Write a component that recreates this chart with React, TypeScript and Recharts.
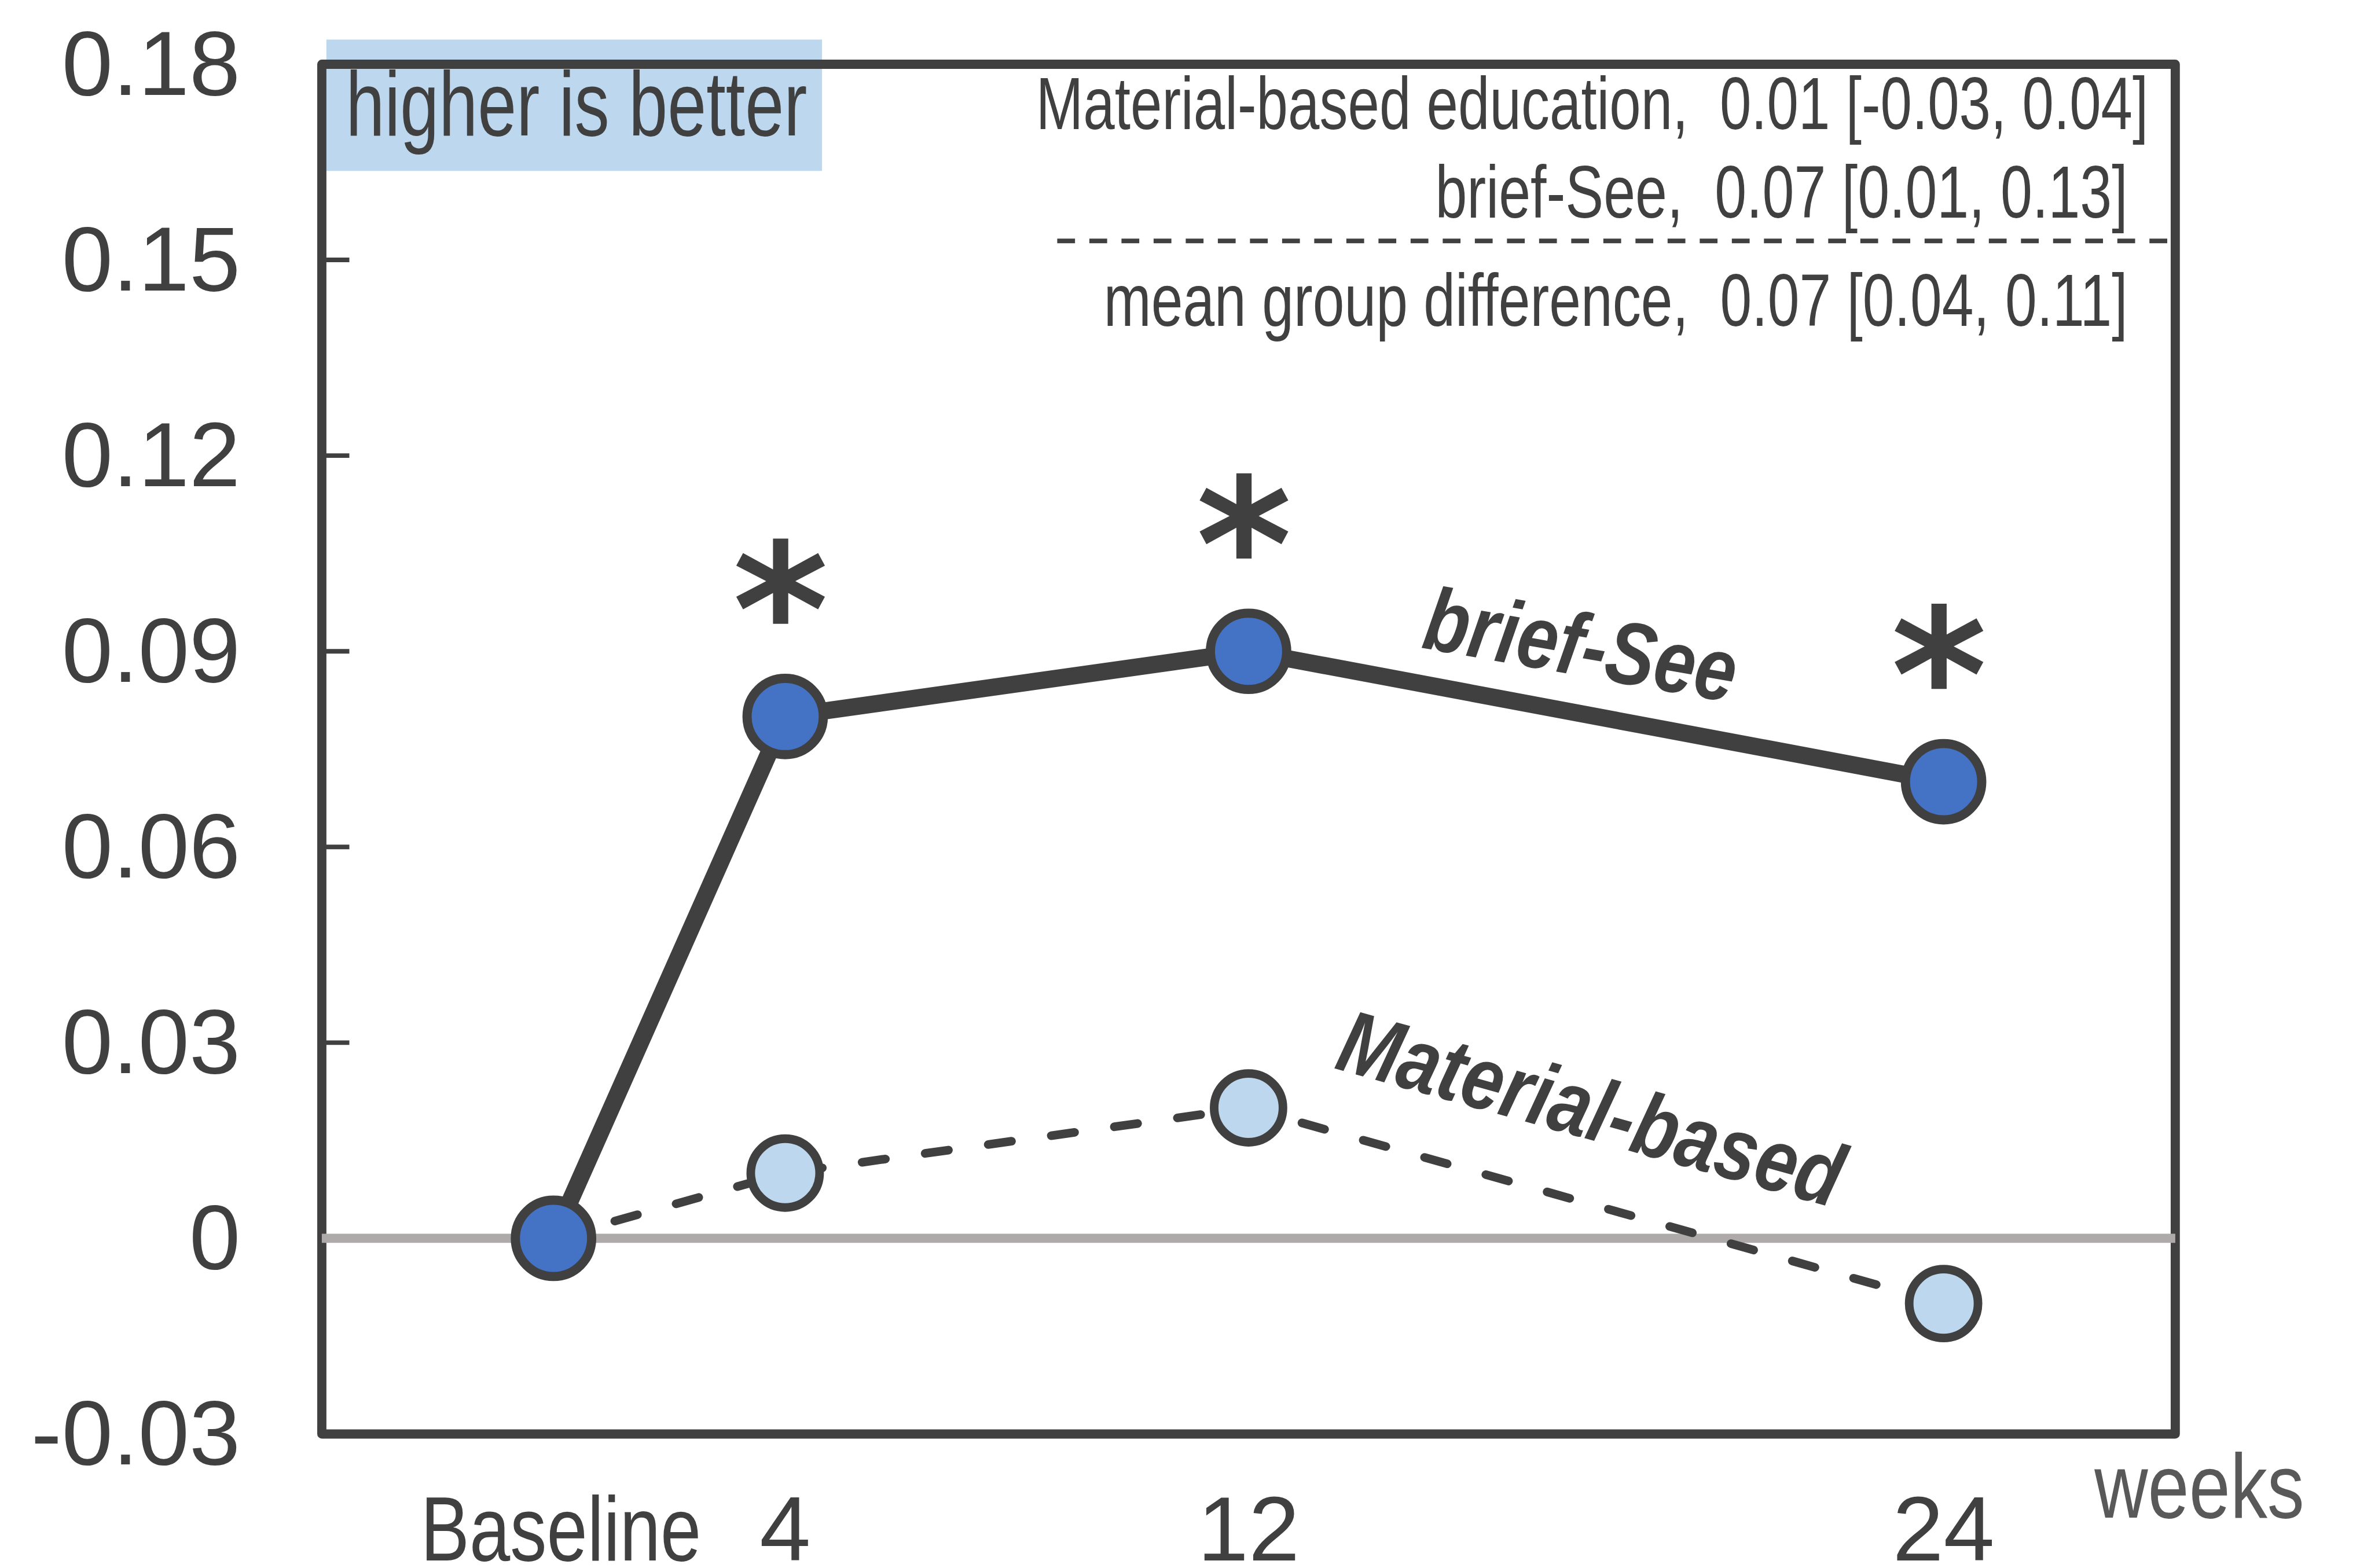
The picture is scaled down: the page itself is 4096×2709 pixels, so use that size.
import React from 'react';
import {
  LineChart,
  Line,
  XAxis,
  YAxis,
  ReferenceLine,
  ReferenceArea,
  LabelList,
  Customized,
} from 'recharts';

// Overall drawing scale
const S = 0.991;
const s = (v: number) => v * S;

// Data
const weeks = [0, 4, 12, 24];
const weekLabels = ['Baseline', '4', '12', '24'];
const briefSee = [0, 0.08, 0.09, 0.07];
const materialBased = [0, 0.01, 0.02, -0.01];
const significant = [false, true, true, true];

const yTicks = [-0.03, 0, 0.03, 0.06, 0.09, 0.12, 0.15, 0.18];
const yTickLabels = ['-0.03', '0', '0.03', '0.06', '0.09', '0.12', '0.15', '0.18'];

const summaryLines = [
  'Material-based education,\u00a0 0.01 [-0.03, 0.04]',
  'brief-See,\u00a0 0.07 [0.01, 0.13]',
  'mean group difference,\u00a0 0.07 [0.04, 0.11]',
];

const data = weeks.map((w, i) => ({
  week: w,
  briefSee: briefSee[i],
  material: materialBased[i],
  sig: significant[i],
}));

const W = 4093;
const H = 2706;

const DARK = '#404040';
const BLUE = '#4472C4';
const LIGHT = '#BDD7EE';
const ZERO = '#AEAAAA';
const NUM_FONT = '"Liberation Sans", Arial, sans-serif';
const TEXT_FONT = '"Liberation Sans Narrow", "Liberation Sans", Arial, sans-serif';

const YTick = (props: any) => {
  const { y, payload } = props;
  const idx = yTicks.indexOf(payload.value);
  const label = idx >= 0 ? yTickLabels[idx] : String(payload.value);
  const showMark = payload.value !== 0 && payload.value !== -0.03 && payload.value !== 0.18;
  return (
    <g>
      {showMark && (
        <line x1={s(561)} x2={s(609)} y1={y} y2={y} stroke={DARK} strokeWidth={s(8)} />
      )}
      <text
        x={s(419)}
        y={y + s(53)}
        textAnchor="end"
        fontFamily={NUM_FONT}
        fontSize={s(160)}
        fill={DARK}
      >
        {label}
      </text>
    </g>
  );
};

const XTick = (props: any) => {
  const { x, payload } = props;
  const idx = weeks.indexOf(payload.value);
  const label = idx >= 0 ? weekLabels[idx] : String(payload.value);
  const isText = label === 'Baseline';
  return (
    <text
      x={isText ? x + s(13) : x}
      y={s(2720)}
      textAnchor="middle"
      fontFamily={isText ? TEXT_FONT : NUM_FONT}
      fontSize={s(160)}
      fill={DARK}
      {...(isText ? { textLength: s(489), lengthAdjust: 'spacingAndGlyphs' } : {})}
    >
      {label}
    </text>
  );
};

const materialDot = (p: any) => (
  <circle
    key={`m-${p.index}`}
    cx={p.cx}
    cy={p.cy}
    r={s(60)}
    fill={LIGHT}
    stroke={DARK}
    strokeWidth={s(15)}
  />
);

const briefDot = (p: any) => (
  <circle
    key={`b-${p.index}`}
    cx={p.cx}
    cy={p.cy}
    r={s(66.5)}
    fill={BLUE}
    stroke={DARK}
    strokeWidth={s(16)}
  />
);

// significance marker above each brief-See point
const STAR_FS = 320;
const Star = (props: any) => {
  const { x, y, value } = props;
  if (!value) return null;
  return (
    <text
      x={x - s(8)}
      y={y - s(260) + s(0.585 * STAR_FS)}
      textAnchor="middle"
      fontFamily='"DejaVu Sans", sans-serif'
      fontWeight="bold"
      fontSize={s(STAR_FS)}
      fill={DARK}
    >
      *
    </text>
  );
};

const Annotations = () => (
  <g>
    {/* note box */}
    <rect x={s(569)} y={s(69)} width={s(864)} height={s(229)} fill={LIGHT} />
    <text
      x={s(603)}
      y={s(236)}
      fontFamily={TEXT_FONT}
      fontSize={s(160)}
      fill={DARK}
      textLength={s(804)}
      lengthAdjust="spacingAndGlyphs"
    >
      higher is better
    </text>

    {/* summary of effects */}
    <text x={s(1806)} y={s(225)} fontFamily={TEXT_FONT} fontSize={s(130)} fill={DARK}
      textLength={s(1939)} lengthAdjust="spacingAndGlyphs">
      {summaryLines[0]}
    </text>
    <text x={s(2502)} y={s(379)} fontFamily={TEXT_FONT} fontSize={s(130)} fill={DARK}
      textLength={s(1207)} lengthAdjust="spacingAndGlyphs">
      {summaryLines[1]}
    </text>
    <line x1={s(1843)} x2={s(3779)} y1={s(420)} y2={s(420)} stroke={DARK}
      strokeWidth={s(8)} strokeDasharray={`${s(31)} ${s(25)}`} />
    <text x={s(1924)} y={s(568)} fontFamily={TEXT_FONT} fontSize={s(130)} fill={DARK}
      textLength={s(1785)} lengthAdjust="spacingAndGlyphs">
      {summaryLines[2]}
    </text>

    {/* series names */}
    <text
      transform={`translate(${s(2476)}, ${s(1129)}) rotate(10)`}
      fontFamily={NUM_FONT}
      fontWeight="bold"
      fontStyle="italic"
      fontSize={s(155)}
      fill={DARK}
      textLength={s(550)}
      lengthAdjust="spacingAndGlyphs"
    >
      brief-See
    </text>
    <text
      transform={`translate(${s(2324)}, ${s(1862)}) rotate(15.6)`}
      fontFamily={NUM_FONT}
      fontWeight="bold"
      fontStyle="italic"
      fontSize={s(155)}
      fill={DARK}
      textLength={s(905)}
      lengthAdjust="spacingAndGlyphs"
    >
      Material-based
    </text>

    {/* axis unit */}
    <text
      x={s(3651)}
      y={s(2646)}
      fontFamily={TEXT_FONT}
      fontSize={s(160)}
      fill="#595959"
      textLength={s(366)}
      lengthAdjust="spacingAndGlyphs"
    >
      weeks
    </text>
  </g>
);

export default function App() {
  return (
    <div style={{ width: W, height: H, background: '#fff' }}>
      <style>{`body{margin:0;}`}</style>
      <LineChart
        width={W}
        height={H}
        data={data}
        margin={{ top: s(112), right: W - s(3792), left: 0, bottom: 0 }}
      >
        <XAxis
          dataKey="week"
          type="number"
          domain={[-4, 28]}
          ticks={weeks}
          allowDataOverflow
          axisLine={false}
          tickLine={false}
          height={H - s(2500)}
          tick={XTick}
          interval={0}
        />
        <YAxis
          type="number"
          domain={[-0.03, 0.18]}
          ticks={yTicks}
          allowDataOverflow
          axisLine={false}
          tickLine={false}
          width={s(561)}
          tick={YTick}
          interval={0}
        />
        <ReferenceLine y={0} stroke={ZERO} strokeWidth={s(16)} />
        <ReferenceArea
          x1={-4}
          x2={28}
          y1={-0.03}
          y2={0.18}
          fill="none"
          fillOpacity={0}
          stroke={DARK}
          strokeWidth={s(16)}
          strokeLinejoin="round"
        />
        <Line
          dataKey="material"
          stroke={DARK}
          strokeWidth={s(15)}
          strokeDasharray={`${s(41)} ${s(70)}`}
          strokeLinecap="round"
          dot={materialDot}
          activeDot={false}
          isAnimationActive={false}
        />
        <Line
          dataKey="briefSee"
          stroke={DARK}
          strokeWidth={s(30)}
          dot={briefDot}
          activeDot={false}
          isAnimationActive={false}
        >
          <LabelList dataKey="sig" content={Star} />
        </Line>
        <Customized component={Annotations} />
      </LineChart>
    </div>
  );
}
